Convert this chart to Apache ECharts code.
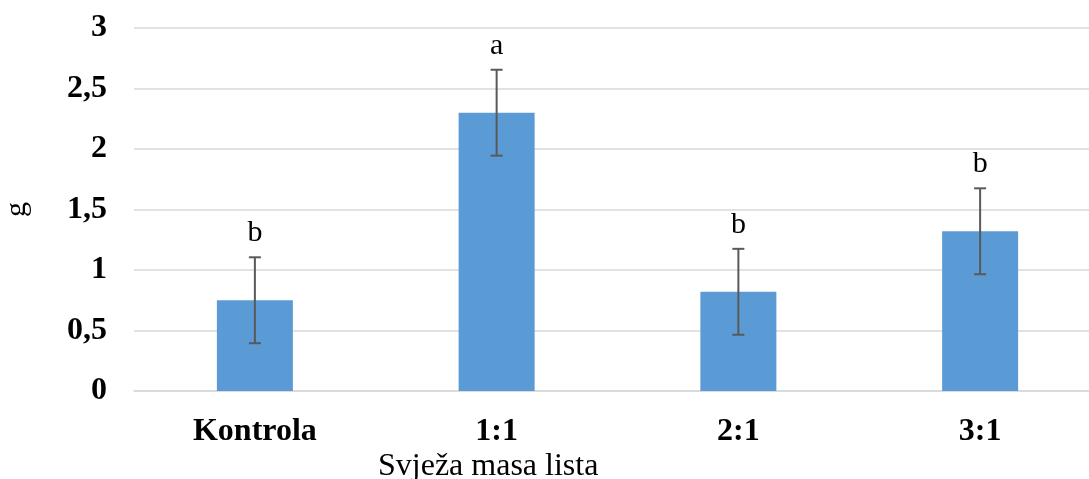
<!DOCTYPE html>
<html><head><meta charset="utf-8">
<script src="https://cdn.jsdelivr.net/npm/echarts@6/dist/echarts.min.js"></script>
<style>html,body{margin:0;padding:0;background:#fff}#c{width:1089px;height:479px}</style>
</head><body><div id="c"></div>
<script>
const categories = ['Kontrola', '1:1', '2:1', '3:1'];
const values = [0.75, 2.30, 0.82, 1.32];
const errors = [0.355, 0.355, 0.355, 0.355];
const letters = ['b', 'a', 'b', 'b'];
const yTicks = ['0', '0,5', '1', '1,5', '2', '2,5', '3'];

const chart = echarts.init(document.getElementById('c'));
const font = '"Liberation Serif","Times New Roman",serif';
const errData = values.map((v, i) => [i, v - errors[i], v + errors[i], letters[i]]);

chart.setOption({
  animation: false,
  grid: { left: 134, top: 28, width: 967, bottom: 88, containLabel: false, outerBoundsMode: 'none' },
  xAxis: {
    type: 'category', data: categories,
    axisLine: { lineStyle: { color: '#D9D9D9', width: 1.5 } },
    axisTick: { show: false },
    axisLabel: { fontFamily: font, fontWeight: 'bold', fontSize: 32, color: '#000', margin: 25 }
  },
  yAxis: {
    type: 'value', min: 0, max: 3, interval: 0.5,
    name: 'g', nameLocation: 'middle', nameGap: 102, nameRotate: 90,
    nameTextStyle: { fontFamily: font, fontSize: 30, color: '#000' },
    axisLine: { show: false }, axisTick: { show: false },
    splitLine: { lineStyle: { color: '#D9D9D9', width: 1.5 } },
    axisLabel: {
      fontFamily: font, fontWeight: 'bold', fontSize: 32, color: '#000', margin: 27,
      formatter: v => yTicks[Math.round(v * 2)]
    }
  },
  graphic: [{
    type: 'text', left: 378, top: 451,
    style: { text: 'Svježa masa lista', font: '32px ' + font, fill: '#000' }
  }],
  series: [{
    type: 'bar', data: values, barWidth: 76, z: 2,
    itemStyle: { color: '#5B9BD5' }
  }, {
    type: 'custom', data: errData, z: 5,
    encode: { x: 0, y: [1, 2] },
    renderItem: function (params, api) {
      const x = api.value(0);
      const lo = api.coord([x, api.value(1)]);
      const hi = api.coord([x, api.value(2)]);
      const cap = 6;
      const st = { stroke: '#595959', lineWidth: 2 };
      return {
        type: 'group',
        children: [
          { type: 'line', shape: { x1: hi[0], y1: hi[1], x2: lo[0], y2: lo[1] }, style: st },
          { type: 'line', shape: { x1: hi[0] - cap, y1: hi[1], x2: hi[0] + cap, y2: hi[1] }, style: st },
          { type: 'line', shape: { x1: lo[0] - cap, y1: lo[1], x2: lo[0] + cap, y2: lo[1] }, style: st },
          { type: 'text', x: hi[0], y: hi[1] - 9,
            style: { text: letters[params.dataIndex], font: '30px ' + font, fill: '#000',
                     textAlign: 'center', textVerticalAlign: 'bottom' } }
        ]
      };
    }
  }]
});
</script></body></html>
